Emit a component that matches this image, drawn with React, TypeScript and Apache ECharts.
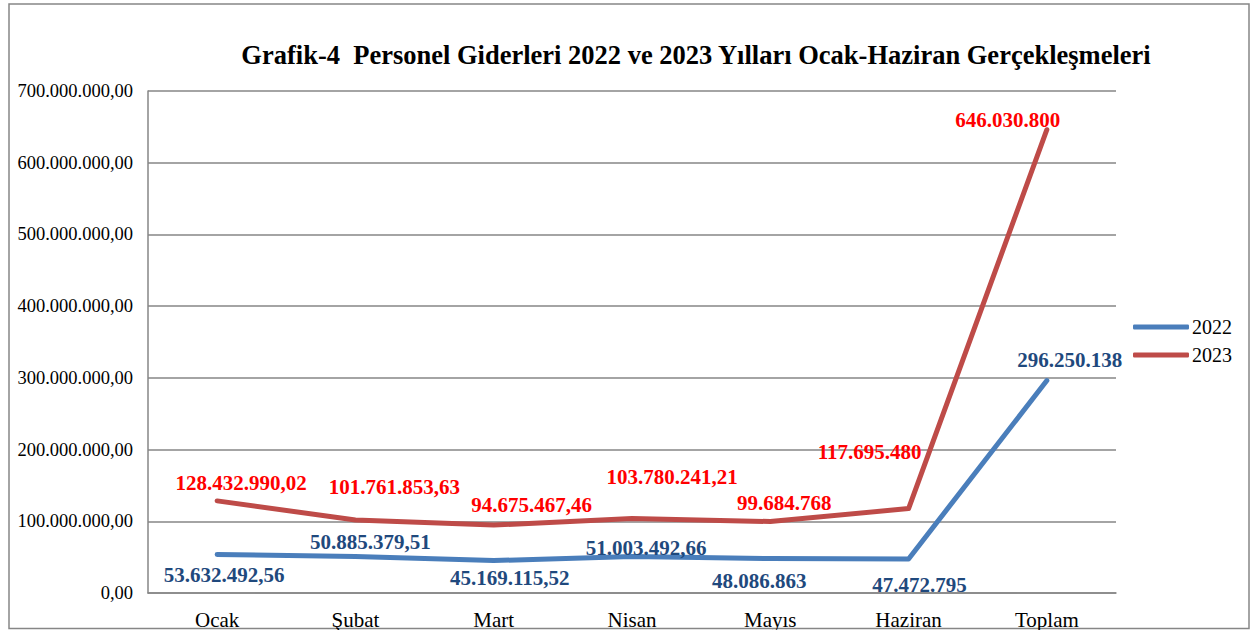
import React, { useEffect, useRef } from "react";
import * as echarts from "echarts";

const categories = ["Ocak", "Şubat", "Mart", "Nisan", "Mayıs", "Haziran", "Toplam"];
const values2022 = [53632492.56, 50885379.51, 45169115.52, 51003492.66, 48086863, 47472795, 296250138];
const values2023 = [128432990.02, 101761853.63, 94675467.46, 103780241.21, 99684768, 117695480, 646030800];
const seriesNames = ["2022", "2023"];
const yTicks = { min: 0, max: 700000000, interval: 100000000 };
const titleText = "Grafik-4  Personel Giderleri 2022 ve 2023 Yılları Ocak-Haziran Gerçekleşmeleri";

// label placement (layout only)
const labelOffsets2022 = [[7, 20], [15, -15], [16, 17], [14, -8], [-11, 22], [11, 26], [23, -21]];
const labelOffsets2023 = [[24, -18], [39, -33], [38, -20], [40, -42], [14, -19], [-39, -57], [-39, -10]];

const SERIF = '"Liberation Serif", "Times New Roman", serif';

function fmtThousands(intStr: string) {
  return intStr.replace(/\B(?=(\d{3})+(?!\d))/g, ".");
}
function fmtValue(v: number) {
  if (Number.isInteger(v)) return fmtThousands(String(v));
  const [i, d] = v.toFixed(2).split(".");
  return fmtThousands(i) + "," + d;
}
function fmtAxis(v: number) {
  return fmtThousands(String(Math.round(v))) + ",00";
}

export default function App() {
  const ref = useRef<HTMLDivElement>(null);
  useEffect(() => {
    if (!ref.current) return;
    const chart = echarts.init(ref.current, null, { renderer: "svg" });
    const mk = (vals: number[], offs: number[][]) =>
      vals.map((v, i) => ({ value: v, label: { offset: offs[i] } }));
    chart.setOption({
      animation: false,
      backgroundColor: "#ffffff",
      graphic: [
        {
          type: "rect",
          shape: { x: 9, y: 4, width: 1240, height: 624.5 },
          style: { fill: "none", stroke: "#868686", lineWidth: 1.5 },
          silent: true,
        },
        {
          type: "text",
          x: 696,
          y: 55,
          style: {
            text: titleText,
            font: `bold 26.5px ${SERIF}`,
            fill: "#000000",
            textAlign: "center",
            textVerticalAlign: "middle",
          },
        },
      ],
      grid: { left: 148, top: 91, width: 968, height: 503, containLabel: false },
      legend: {
        orient: "vertical",
        left: 1133,
        top: 317,
        padding: 0,
        itemWidth: 56,
        itemHeight: 5,
        itemGap: 8,
        icon: "roundRect",
        textStyle: { fontFamily: SERIF, fontSize: 20, color: "#000000", padding: [0, 0, 0, -2] },
        data: seriesNames,
      },
      xAxis: {
        type: "category",
        data: categories,
        boundaryGap: true,
        axisTick: { show: false },
        axisLine: { show: true, lineStyle: { color: "#868686", width: 1.5 } },
        axisLabel: { fontFamily: SERIF, fontSize: 21, color: "#000000", margin: 16 },
      },
      yAxis: {
        type: "value",
        min: yTicks.min,
        max: yTicks.max,
        interval: yTicks.interval,
        axisLine: { show: true, lineStyle: { color: "#868686", width: 1.5 } },
        axisTick: { show: false },
        splitLine: { show: true, lineStyle: { color: "#868686", width: 1.5 } },
        axisLabel: {
          fontFamily: SERIF,
          fontSize: 18.5,
          color: "#000000",
          margin: 15,
          formatter: (v: number) => fmtAxis(v),
        },
      },
      series: [
        {
          name: seriesNames[0],
          type: "line",
          data: mk(values2022, labelOffsets2022),
          symbol: "circle",
          symbolSize: 1,
          showSymbol: true,
          itemStyle: { color: "#4A7EBB" },
          lineStyle: { color: "#4A7EBB", width: 5, cap: "round", join: "round" },
          label: {
            show: true,
            position: "inside",
            fontFamily: SERIF,
            fontSize: 21,
            fontWeight: "bold",
            color: "#1F497D",
            formatter: (p: any) => fmtValue(p.value),
          },
          z: 3,
        },
        {
          name: seriesNames[1],
          type: "line",
          data: mk(values2023, labelOffsets2023),
          symbol: "circle",
          symbolSize: 1,
          showSymbol: true,
          itemStyle: { color: "#BE4B48" },
          lineStyle: { color: "#BE4B48", width: 5, cap: "round", join: "round" },
          label: {
            show: true,
            position: "inside",
            fontFamily: SERIF,
            fontSize: 21,
            fontWeight: "bold",
            color: "#FF0000",
            formatter: (p: any) => fmtValue(p.value),
          },
          z: 2,
        },
      ],
    });
    return () => chart.dispose();
  }, []);
  return (
    <div
      ref={ref}
      style={{ position: "absolute", left: 0, top: 0, width: 1255, height: 630 }}
    />
  );
}
